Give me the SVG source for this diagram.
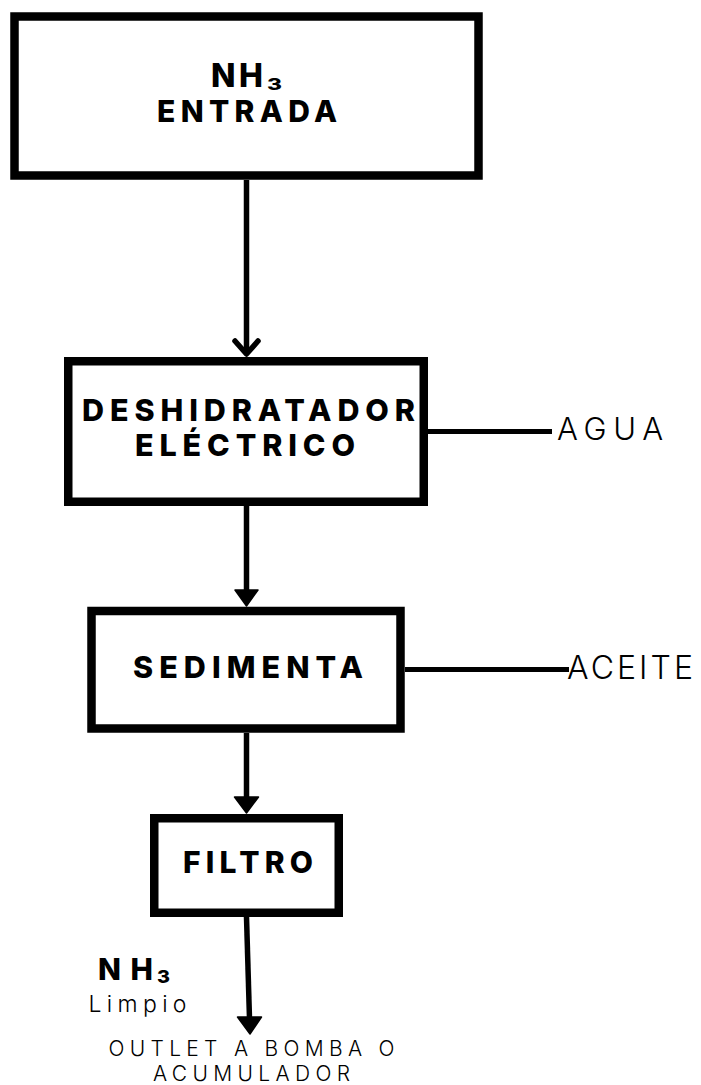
<svg xmlns="http://www.w3.org/2000/svg" width="701" height="1085" viewBox="0 0 701 1085">
  <style>
    .box { fill: #ffffff; stroke: #000000; stroke-width: 8.5; }
    .wire { fill: none; stroke: #000000; stroke-width: 5.5; }
    .side { fill: none; stroke: #000000; stroke-width: 5; }
    .head { fill: #000000; stroke: #000000; stroke-width: 1.5; stroke-linejoin: round; }
    .bold { font-family: Inter, "Liberation Sans", sans-serif; font-weight: 800; fill: #000000; }
    .light { font-family: Inter, "Liberation Sans", sans-serif; font-weight: 300; fill: #000000; }
  </style>
  <rect width="701" height="1085" fill="#ffffff"/>

  <g id="connectors">
    <!-- entrada to deshidratador (open chevron head) -->
    <line class="wire" x1="246.5" y1="180" x2="246.5" y2="353"/>
    <polyline class="wire" points="235,341 246.5,354 258,341" stroke-linejoin="round" stroke-linecap="round"/>
    <!-- deshidratador to sedimenta -->
    <line class="wire" x1="246.5" y1="506" x2="246.5" y2="592"/>
    <polygon class="head" points="235,590 258,590 246.5,606"/>
    <!-- sedimenta to filtro -->
    <line class="wire" x1="246.5" y1="733" x2="246.5" y2="799"/>
    <polygon class="head" points="234.5,797 258.5,797 246.5,813"/>
    <!-- filtro outlet -->
    <line class="wire" x1="246.5" y1="917" x2="249.5" y2="1019"/>
    <polygon class="head" points="237.5,1017 261.5,1017 250,1034"/>
    <!-- side streams -->
    <line class="side" x1="428" y1="431.5" x2="552" y2="431.5"/>
    <line class="side" x1="405" y1="669.5" x2="569" y2="669.5"/>
  </g>

  <g id="entrada">
    <rect class="box" x="14.5" y="16.5" width="464" height="159"/>
    <text class="bold" x="211" y="87" font-size="32" textLength="52" lengthAdjust="spacing">NH</text>
    <text class="bold" x="267" y="90" font-size="16" textLength="15" lengthAdjust="spacingAndGlyphs">3</text>
    <text class="bold" x="157" y="121.5" font-size="30" textLength="180" lengthAdjust="spacing">ENTRADA</text>
  </g>

  <g id="deshidratador">
    <rect class="box" x="68.25" y="361.25" width="355.5" height="140.5"/>
    <text class="bold" x="82" y="420.5" font-size="30.5" textLength="333" lengthAdjust="spacing">DESHIDRATADOR</text>
    <text class="bold" x="135" y="456" font-size="30.5" textLength="220" lengthAdjust="spacing">ELÉCTRICO</text>
  </g>

  <g id="sedimenta">
    <rect class="box" x="91.5" y="611" width="309" height="117.5"/>
    <text class="bold" x="133" y="677.5" font-size="30.5" textLength="230" lengthAdjust="spacing">SEDIMENTA</text>
  </g>

  <g id="filtro">
    <rect class="box" x="154.25" y="818.25" width="184.5" height="94.5"/>
    <text class="bold" x="183" y="872.5" font-size="30" textLength="130" lengthAdjust="spacing">FILTRO</text>
  </g>

  <g id="agua">
    <text class="light" x="557" y="439.5" font-size="31" textLength="106" lengthAdjust="spacing">AGUA</text>
  </g>

  <g id="aceite">
    <text class="light" x="567" y="678.5" font-size="32" textLength="126" lengthAdjust="spacing">ACEITE</text>
  </g>

  <g id="nh3-limpio">
    <text class="bold" x="98" y="979.5" font-size="30" textLength="55" lengthAdjust="spacing">NH</text>
    <text class="bold" x="157" y="982.5" font-size="17.5" textLength="13" lengthAdjust="spacingAndGlyphs">3</text>
    <text class="light" x="88.5" y="1011.5" font-size="23" font-weight="400" textLength="98" lengthAdjust="spacing">Limpio</text>
  </g>

  <g id="outlet">
    <text class="light" x="108.5" y="1056" font-size="21" font-weight="400" textLength="286" lengthAdjust="spacing">OUTLET A BOMBA O</text>
    <text class="light" x="153" y="1081" font-size="21" font-weight="400" textLength="197" lengthAdjust="spacing">ACUMULADOR</text>
  </g>
</svg>
